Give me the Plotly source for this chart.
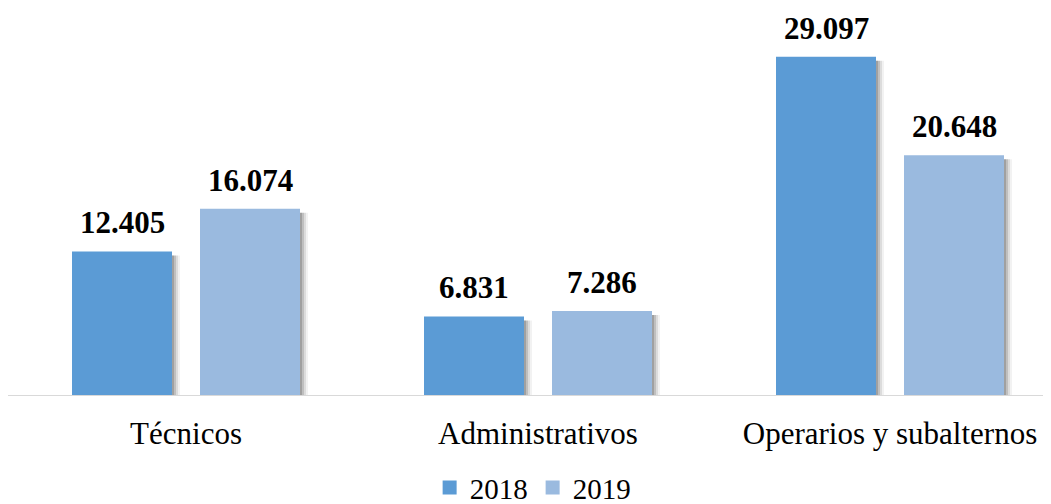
import plotly.graph_objects as go

categorias = ["Técnicos", "Administrativos", "Operarios y subalternos"]
v2018 = [12405, 6831, 29097]
v2019 = [16074, 7286, 20648]
etiquetas_2018 = ["12.405", "6.831", "29.097"]
etiquetas_2019 = ["16.074", "7.286", "20.648"]

W, H = 1043, 496          # la página deja 8 px de margen
px_cat = 352.0            # pixels por categoria
ancho = 100 / px_cat
ymax = 32000
px_y = 373 / ymax
c2018, c2019 = "#5B9BD5", "#9ABADF"
off18, off19 = -114 / px_cat, 14 / px_cat

xs = list(range(len(categorias)))
fig = go.Figure()

# sombra difusa a la derecha de las barras
for desp, alpha in [(8, 0.05), (6, 0.09), (4, 0.13), (2, 0.16)]:
    for vals, off in [(v2018, off18), (v2019, off19)]:
        fig.add_trace(go.Bar(
            x=xs, y=[v - 4 / px_y for v in vals],
            width=ancho, offset=off + desp / px_cat,
            marker=dict(color=f"rgba(0,0,0,{alpha})", line=dict(width=0)),
            showlegend=False, hoverinfo="skip"))

fig.add_trace(go.Bar(x=xs, y=v2018, name="2018", width=ancho, offset=off18,
                     marker=dict(color=c2018, line=dict(width=0)), showlegend=False))
fig.add_trace(go.Bar(x=xs, y=v2019, name="2019", width=ancho, offset=off19,
                     marker=dict(color=c2019, line=dict(width=0)), showlegend=False))

# etiquetas de valor
fuente_val = dict(family="Liberation Serif", size=31, color="black", weight="bold")
for vals, etq, off in [(v2018, etiquetas_2018, off18), (v2019, etiquetas_2019, off19)]:
    for i, (v, t) in enumerate(zip(vals, etq)):
        fig.add_annotation(x=i + off + ancho / 2, y=v, text=t, showarrow=False,
                           yanchor="bottom", yshift=9, font=fuente_val)

# entradas de leyenda con cuadrados
for nombre, col in [("2018", c2018), ("2019", c2019)]:
    fig.add_trace(go.Scatter(x=[None], y=[None], mode="markers", name=nombre,
                             marker=dict(symbol="square", size=14, color=col)))

r0 = -178 / px_cat
fig.update_layout(
    width=W, height=H,
    barmode="overlay",
    plot_bgcolor="white", paper_bgcolor="white",
    margin=dict(l=0, r=0, t=15, b=H - 388, autoexpand=False),
    font=dict(family="Liberation Serif", size=31, color="black"),
    xaxis=dict(range=[r0, r0 + W / px_cat], tickvals=xs, ticktext=categorias,
               showgrid=False, zeroline=False, showline=False, ticks="",
               automargin=False, ticklabelstandoff=16, tickfont=dict(size=31)),
    yaxis=dict(range=[0, ymax], visible=False, automargin=False),
    legend=dict(orientation="h", x=0.503, xanchor="center", y=-0.246, yanchor="middle",
                font=dict(size=29), itemwidth=30, traceorder="normal",
                itemsizing="trace", tracegroupgap=0),
    shapes=[dict(type="line", xref="paper", yref="y", x0=0, x1=1, y0=0, y1=0,
                 line=dict(color="#D9D9D9", width=2))],
)

fig.write_html("out.html")
